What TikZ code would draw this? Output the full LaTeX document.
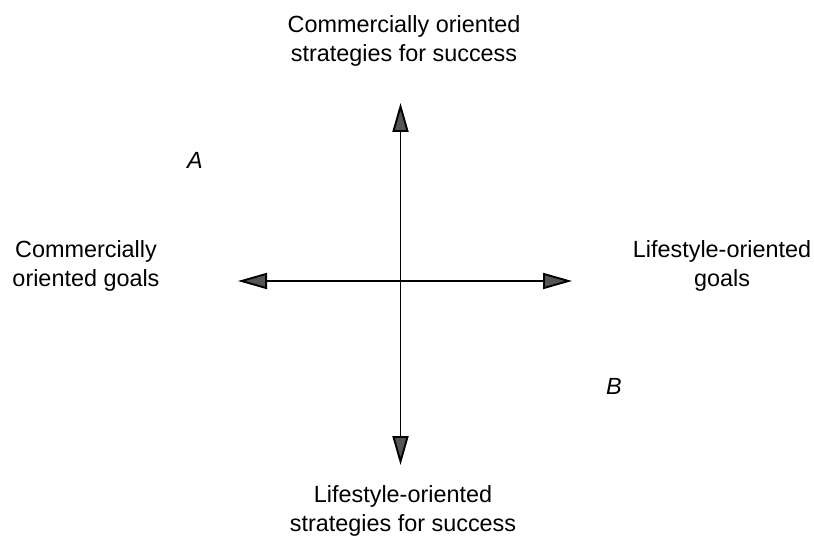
\documentclass[tikz,border=0pt]{standalone}
\usepackage{fontspec}
\setmainfont{Liberation Sans}
\usetikzlibrary{arrows.meta}
\definecolor{headgray}{RGB}{85,85,88}
\begin{document}
\begin{tikzpicture}[x=1pt,y=-1pt,
  lbl/.style={align=center,anchor=base,inner sep=0pt,font=\fontsize{23.4}{29}\selectfont},
  letter/.style={anchor=base,inner sep=0pt,font=\fontsize{23.4}{29}\selectfont\itshape},
  axis/.style={line width=1.9pt,black,
    {Triangle[length=29pt,width=16pt,fill=headgray]}-{Triangle[length=29pt,width=16pt,fill=headgray]}}]
\useasboundingbox (0,0) rectangle (814,540);
\coordinate (top) at (400.5,103);
\coordinate (bot) at (400.5,465);
\coordinate (lft) at (238,281);
\coordinate (rgt) at (572,281);
\draw[axis] (top) -- (bot);
\draw[axis] (lft) -- (rgt);
\node[lbl] (t) at (404,62) {Commercially oriented\\strategies for success};
\node[lbl] (b) at (403,531) {Lifestyle-oriented\\strategies for success};
\node[lbl] (l) at (86,287) {Commercially\\oriented goals};
\node[lbl] (r) at (722,287) {Lifestyle-oriented\\goals};
\node[letter] (A) at (195,169) {A};
\node[letter] (B) at (614,394) {B};
\end{tikzpicture}
\end{document}
